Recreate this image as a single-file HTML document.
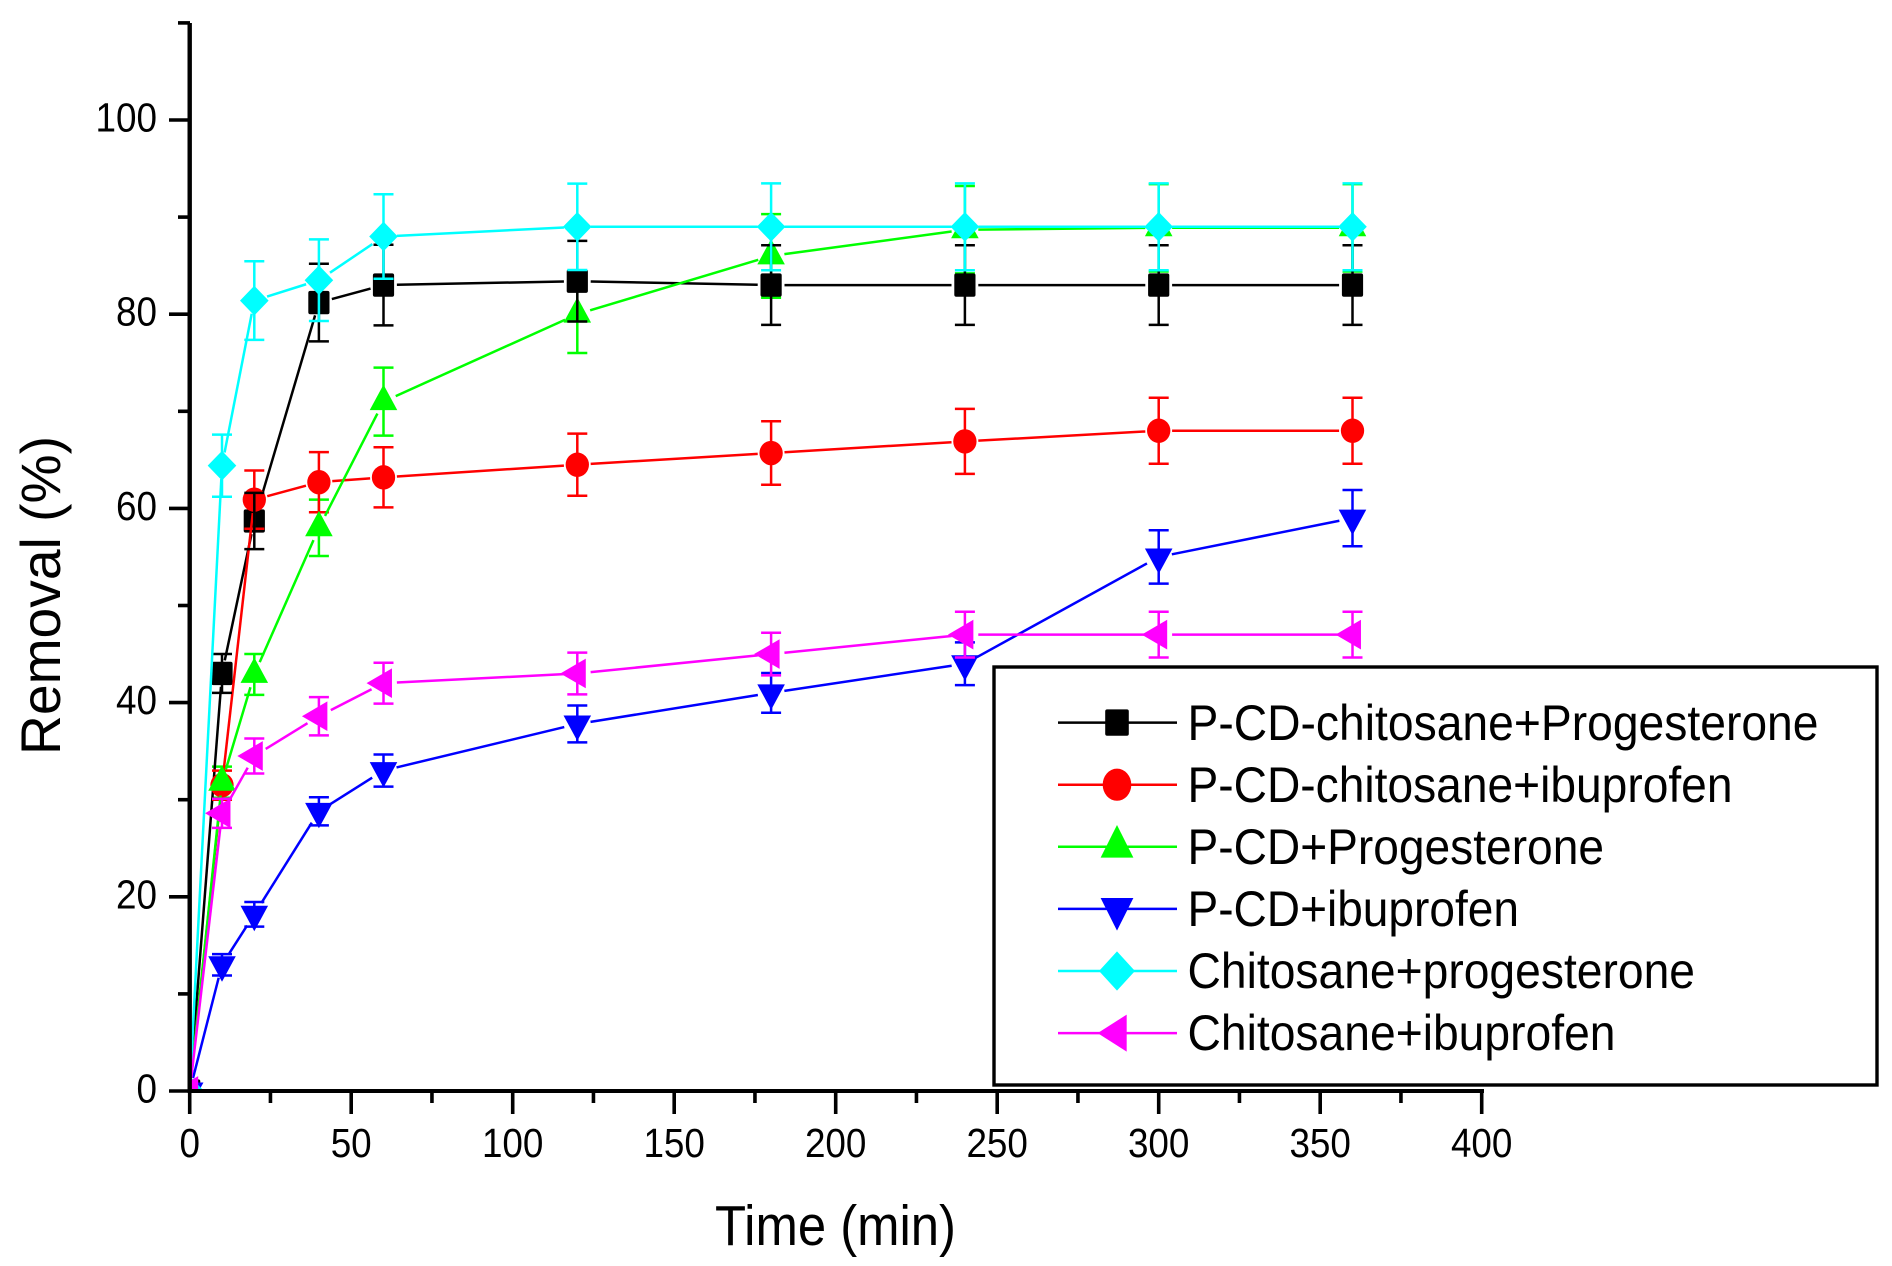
<!DOCTYPE html>
<html lang="en">
<head>
<meta charset="utf-8">
<title>Removal (%) vs Time (min)</title>
<style>
html,body{margin:0;padding:0;background:#fff;}
svg{display:block;}
text{font-family:"Liberation Sans",Arial,sans-serif;fill:#000;}
</style>
</head>
<body>
<svg id="chart" xmlns="http://www.w3.org/2000/svg" width="1892" height="1266" viewBox="0 0 1892 1266">
  <defs>
    <clipPath id="plot-clip"><rect x="189.7" y="0" width="1400" height="1091"></rect></clipPath>
  </defs>
  <rect x="0" y="0" width="1892" height="1266" fill="#fff"></rect>
  <g id="plot"></g>
  <g id="axes"></g>
  <text transform="translate(60,755) rotate(-90)" font-size="56" textLength="319" lengthAdjust="spacingAndGlyphs">Removal (%)</text>
  <text x="715" y="1245" font-size="57" textLength="241" lengthAdjust="spacingAndGlyphs">Time (min)</text>
  <g id="legend">
    <rect x="994" y="667" width="883" height="418" fill="#fff" stroke="#000" stroke-width="3.4"></rect>
    <text x="1187.5" y="740" font-size="50" textLength="631" lengthAdjust="spacingAndGlyphs">P-CD-chitosane+Progesterone</text>
    <text x="1187.5" y="802" font-size="50" textLength="545" lengthAdjust="spacingAndGlyphs">P-CD-chitosane+ibuprofen</text>
    <text x="1187.5" y="864" font-size="50" textLength="416.5" lengthAdjust="spacingAndGlyphs">P-CD+Progesterone</text>
    <text x="1187.5" y="926" font-size="50" textLength="331.5" lengthAdjust="spacingAndGlyphs">P-CD+ibuprofen</text>
    <text x="1187.5" y="988" font-size="50" textLength="507.5" lengthAdjust="spacingAndGlyphs">Chitosane+progesterone</text>
    <text x="1187.5" y="1050" font-size="50" textLength="428" lengthAdjust="spacingAndGlyphs">Chitosane+ibuprofen</text>
  </g>
</svg>
<script>
// Data
const times = [0, 10, 20, 40, 60, 120, 180, 240, 300, 360];
const blackValues = [0, 43, 58.7, 81.2, 83, 83.4, 83, 83, 83, 83];
const blackErrors = [0, 2, 2.9, 4, 4.15, 4.15, 4.1, 4.1, 4.1, 4.1];
const redValues = [0, 31.5, 60.9, 62.7, 63.2, 64.5, 65.7, 66.9, 68, 68];
const redErrors = [0, 1.5, 3, 3.1, 3.1, 3.2, 3.27, 3.35, 3.4, 3.4];
const greenValues = [0, 31.8, 42.9, 58, 71, 80, 86, 88.7, 88.9, 88.9];
const greenErrors = [0, 1.6, 2.1, 2.9, 3.5, 4, 4.3, 4.5, 4.5, 4.5];
const blueValues = [0, 13, 18.2, 28.8, 33, 37.8, 41, 44, 55, 59];
const blueErrors = [0, 1.1, 1.27, 1.45, 1.65, 1.9, 2.05, 2.2, 2.75, 2.9];
const cyanValues = [0, 64.4, 81.4, 83.5, 88, 89, 89, 89, 89, 89];
const cyanErrors = [0, 3.2, 4.05, 4.2, 4.35, 4.45, 4.47, 4.47, 4.47, 4.47];
const magentaValues = [0, 28.6, 34.5, 38.6, 42, 43, 45, 47, 47, 47];
const magentaErrors = [0, 1.5, 1.8, 1.97, 2.1, 2.15, 2.2, 2.35, 2.35, 2.35];
const xMajorTicks = [0, 50, 100, 150, 200, 250, 300, 350, 400];
const xMinorTicks = [25, 75, 125, 175, 225, 275, 325, 375];
const yMajorTicks = [0, 20, 40, 60, 80, 100];
const yMinorTicks = [10, 30, 50, 70, 90, 110];

const SVGNS = 'http://www.w3.org/2000/svg';
const xOf = v => 189.7 + v * 3.23;
const yOf = v => 1091 - v * 9.71;
const plot = document.getElementById('plot');
const axes = document.getElementById('axes');
const legend = document.getElementById('legend');
const LINE_WIDTH = 2.5;
const MARKER_SCALE = 1.06;
const DIGIT_WIDTH = 20.5;

function make(tag, attrs, parent) {
  const el = document.createElementNS(SVGNS, tag);
  for (const k in attrs) el.setAttribute(k, attrs[k]);
  parent.appendChild(el);
  return el;
}

function markerShape(kind, cx, cy, sx, sy, color, parent) {
  let el;
  if (kind === 'square') {
    el = make('rect', {x: cx - 10 * sx, y: cy - 11 * sy, width: 20 * sx, height: 22 * sy, rx: 2, fill: color}, parent);
  } else if (kind === 'circle') {
    el = make('ellipse', {cx: cx, cy: cy, rx: 11 * sx, ry: 11.5 * sy, fill: color}, parent);
  } else {
    let pts;
    if (kind === 'up') pts = [[0, -16], [13, 8], [-13, 8]];
    if (kind === 'down') pts = [[0, 16], [13, -8], [-13, -8]];
    if (kind === 'diamond') pts = [[-13.5, 0], [0, -14], [13.5, 0], [0, 14]];
    if (kind === 'left') pts = [[-16, 0], [8, -14], [8, 14]];
    el = make('polygon', {points: pts.map(p => (cx + p[0] * sx) + ',' + (cy + p[1] * sy)).join(' '), fill: color}, parent);
  }
  return el;
}

function drawBars(name, values, errors, color) {
  const g = make('g', {stroke: color, 'stroke-width': LINE_WIDTH, fill: 'none'}, plot);
  
  
  times.forEach((t, i) => {
    if (errors[i] === 0) return;
    const x = xOf(t), top = yOf(values[i] + errors[i]), bottom = yOf(values[i] - errors[i]);
    const bar = make('path', {d: 'M' + x + ' ' + top + 'V' + bottom + 'M' + (x - 10) + ' ' + top + 'H' + (x + 10) + 'M' + (x - 10) + ' ' + bottom + 'H' + (x + 10)}, g);
    
    
  });
}

function drawLine(name, values, color) {
  const g = make('g', {stroke: color, 'stroke-width': LINE_WIDTH, fill: 'none'}, plot);
  
  
  const gap = 13.4;
  for (let i = 0; i < times.length - 1; i++) {
    const x1 = xOf(times[i]), y1 = yOf(values[i]), x2 = xOf(times[i + 1]), y2 = yOf(values[i + 1]);
    const len = Math.hypot(x2 - x1, y2 - y1);
    if (len <= 2 * gap) continue;
    const ux = (x2 - x1) / len, uy = (y2 - y1) / len;
    const seg = make('line', {x1: x1 + ux * gap, y1: y1 + uy * gap, x2: x2 - ux * gap, y2: y2 - uy * gap}, g);
    
    
  }
}

function drawMarkers(name, values, color, kind) {
  const g = make('g', {'clip-path': 'url(#plot-clip)'}, plot);
  
  
  times.forEach((t, i) => {
    const m = markerShape(kind, xOf(t), yOf(values[i]), MARKER_SCALE, MARKER_SCALE, color, g);
    
    
  });
}

function drawSeries(name, values, color, kind) {
  drawLine(name, values, color);
  drawMarkers(name, values, color, kind);
}

// Layering follows the reference
drawBars('green-series', greenValues, greenErrors, '#00ff00');
drawSeries('black-series', blackValues, '#000000', 'square');
drawBars('red-series', redValues, redErrors, '#ff0000');
drawSeries('red-series', redValues, '#ff0000', 'circle');
drawSeries('green-series', greenValues, '#00ff00', 'up');
drawBars('black-series', blackValues, blackErrors, '#000000');
drawBars('blue-series', blueValues, blueErrors, '#0000ff');
drawSeries('blue-series', blueValues, '#0000ff', 'down');
drawBars('cyan-series', cyanValues, cyanErrors, '#00ffff');
drawSeries('cyan-series', cyanValues, '#00ffff', 'diamond');
drawBars('magenta-series', magentaValues, magentaErrors, '#ff00ff');
drawSeries('magenta-series', magentaValues, '#ff00ff', 'left');

// Axes
const yAxisLine = make('line', {x1: 189.7, y1: 23, x2: 189.7, y2: 1093, stroke: '#000', 'stroke-width': 4.4}, axes);


const xAxisLine = make('line', {x1: 187.7, y1: 1091, x2: 1484, y2: 1091, stroke: '#000', 'stroke-width': 4}, axes);



yMajorTicks.forEach(v => {
  const tick = make('line', {x1: 169, y1: yOf(v), x2: 190, y2: yOf(v), stroke: '#000', 'stroke-width': 3.6}, axes);
  
  
  const label = make('text', {x: 157, y: yOf(v) + 11.5, 'font-size': 41, 'text-anchor': 'end', textLength: DIGIT_WIDTH * String(v).length, lengthAdjust: 'spacingAndGlyphs'}, axes);
  label.textContent = String(v);
  
  
});
yMinorTicks.forEach(v => {
  const tick = make('line', {x1: 178, y1: yOf(v), x2: 190, y2: yOf(v), stroke: '#000', 'stroke-width': 3.6}, axes);
  
  
});
xMajorTicks.forEach(v => {
  const tick = make('line', {x1: xOf(v), y1: 1091, x2: xOf(v), y2: 1114, stroke: '#000', 'stroke-width': 3.6}, axes);
  
  
  const label = make('text', {x: xOf(v), y: 1157, 'font-size': 41, 'text-anchor': 'middle', textLength: DIGIT_WIDTH * String(v).length, lengthAdjust: 'spacingAndGlyphs'}, axes);
  label.textContent = String(v);
  
  
});
xMinorTicks.forEach(v => {
  const tick = make('line', {x1: xOf(v), y1: 1091, x2: xOf(v), y2: 1103, stroke: '#000', 'stroke-width': 3.6}, axes);
  
  
});

// Legend keys
function legendKey(name, y, color, kind, sx, sy) {
  const line = make('line', {x1: 1058, y1: y, x2: 1177, y2: y, stroke: color, 'stroke-width': LINE_WIDTH}, legend);
  
  
  const m = markerShape(kind, 1117, y, sx, sy, color, legend);
  
  
}
legendKey('black-series', 722.6, '#000000', 'square', 1.18, 1.2);
legendKey('red-series', 784.7, '#ff0000', 'circle', 1.3, 1.4);
legendKey('green-series', 846.8, '#00ff00', 'up', 1.26, 1.36);
legendKey('blue-series', 908.9, '#0000ff', 'down', 1.26, 1.36);
legendKey('cyan-series', 971, '#00ffff', 'diamond', 1.33, 1.4);
legendKey('magenta-series', 1033.1, '#ff00ff', 'left', 1.21, 1.32);
</script>
</body>
</html>
